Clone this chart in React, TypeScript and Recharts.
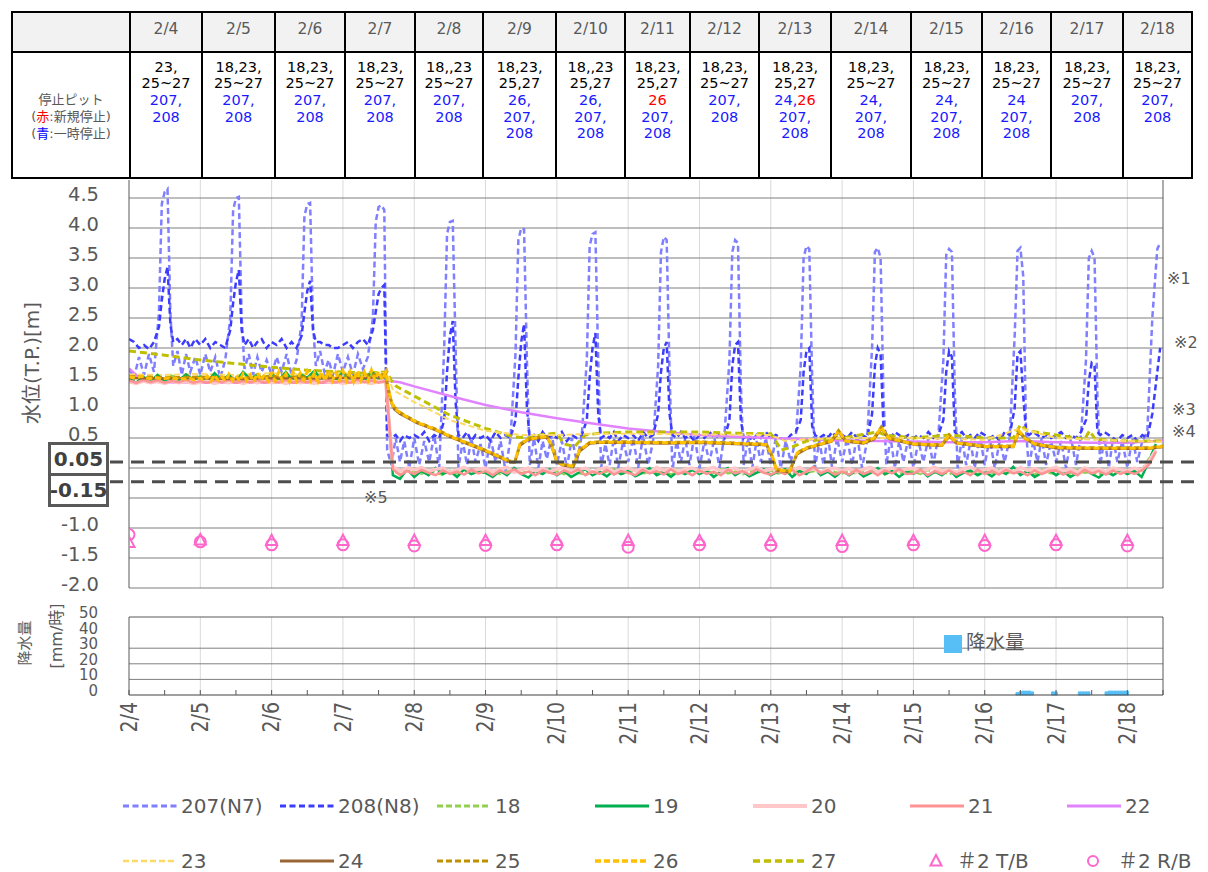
import React from "react";
import {
  ComposedChart,
  Line,
  Scatter,
  Bar,
  XAxis,
  YAxis,
  CartesianGrid,
  ReferenceLine
} from "recharts";

const FONT = '"DejaVu Sans", "Noto Sans CJK JP", sans-serif';
const INK = "#595959";

// ---- axes / categories ----
const dayLabels = ["2/4","2/5","2/6","2/7","2/8","2/9","2/10","2/11","2/12","2/13","2/14","2/15","2/16","2/17","2/18"];
const dayTicks = [0,1,2,3,4,5,6,7,8,9,10,11,12,13,14];
const levelTicks = [-2,-1.5,-1,-0.5,0,0.5,1,1.5,2,2.5,3,3.5,4,4.5];
const rainTicks = [0,10,20,30,40,50];

// stop pits per day: "|" new line, "+" segment, "*" blue (一時停止), "!" red (新規停止)
const stopPits = [
  "23,|25~27|*207,|*208",
  "18,23,|25~27|*207,|*208",
  "18,23,|25~27|*207,|*208",
  "18,23,|25~27|*207,|*208",
  "18,,23|25~27|*207,|*208",
  "18,23,|25,27|*26,|*207,|*208",
  "18,,23|25,27|*26,|*207,|*208",
  "18,23,|25,27|!26|*207,|*208",
  "18,23,|25~27|*207,|*208",
  "18,23,|25,27|*24,+!26|*207,|*208",
  "18,23,|25~27|*24,|*207,|*208",
  "18,23,|25~27|*24,|*207,|*208",
  "18,23,|25~27|*24|*207,|*208",
  "18,23,|25~27|*207,|*208",
  "18,23,|25~27|*207,|*208"
];

// ---- N7 / N8 (within-day sample offsets, values per day) ----
const peakOffsets = [0,0.07,0.14,0.21,0.28,0.35,0.42,0.46,0.5,0.54,0.58,0.62,0.68,0.74,0.8,0.86,0.93];

const n7ByDay = [
  [1.65,1.5,1.85,1.55,1.9,1.6,2.6,4.4,4.6,4.65,2.6,1.7,1.95,1.55,1.9,1.6,1.85],
  [1.55,1.9,1.6,1.85,1.5,1.8,2.5,4.3,4.5,4.52,2.5,1.65,1.9,1.55,1.85,1.6,1.8],
  [1.55,1.85,1.6,1.9,1.55,1.8,2.4,4.2,4.4,4.42,2.4,1.7,1.95,1.6,1.8,1.55,1.9],
  [1.6,1.85,1.55,1.9,1.65,1.85,2.5,4.1,4.35,4.38,4.3,0.3,0.05,0.5,0.1,0.45,0.0],
  [0.5,0.05,0.45,0.1,0.55,0.0,2.0,3.9,4.1,4.12,2.0,0.0,0.45,0.05,0.5,0.1,0.4],
  [0.0,0.5,0.1,0.45,-0.05,0.5,1.9,3.8,4.0,3.98,1.8,0.05,0.5,0.0,0.45,0.15,0.55],
  [0.05,0.45,0.0,0.5,0.1,0.55,1.8,3.7,3.9,3.93,1.8,0.0,0.4,0.05,0.5,0.0,0.45],
  [0.1,0.5,0.0,0.55,0.05,0.45,1.7,3.6,3.85,3.8,1.6,-0.05,0.45,0.1,0.5,0.05,0.55],
  [0.0,0.45,0.1,0.5,0.0,0.55,1.8,3.6,3.8,3.75,1.4,0.05,0.5,0.0,0.45,0.1,0.5],
  [0.05,0.5,0.0,0.45,0.1,0.5,1.7,3.5,3.7,3.65,1.5,0.0,0.45,0.05,0.55,0.0,0.5],
  [0.1,0.5,0.05,0.55,0.0,0.45,2.0,3.6,3.67,3.5,1.2,0.05,0.5,0.0,0.45,0.1,0.5],
  [0.0,0.45,0.1,0.5,0.05,0.55,1.8,3.55,3.65,3.6,1.3,0.0,0.5,0.05,0.45,0.0,0.55],
  [0.05,0.5,0.0,0.45,0.1,0.5,2.2,3.62,3.67,3.2,0.6,0.0,0.45,0.1,0.5,0.05,0.45],
  [0.1,0.45,0.0,0.5,0.05,0.55,1.8,3.5,3.62,3.5,1.2,0.05,0.5,0.0,0.5,0.1,0.45],
  [0.0,0.5,0.1,0.45,0.6,2.5,3.65,3.75]
];

const n8ByDay = [
  [2.15,2.1,2.0,2.05,1.98,2.1,2.35,2.8,3.15,3.35,2.4,2.1,2.15,2.05,2.15,2.0,2.15],
  [2.05,2.15,2.0,2.1,2.05,2.0,2.3,2.75,3.1,3.3,2.3,2.05,2.15,2.0,2.1,2.15,2.0],
  [2.1,2.05,2.15,2.0,2.1,2.0,2.2,2.6,2.95,3.12,2.3,2.1,2.1,2.05,2.05,2.0,2.0],
  [2.05,2.1,2.0,2.1,2.15,2.05,2.3,2.6,2.9,3.0,3.05,0.55,0.5,0.55,0.45,0.55,0.5],
  [0.55,0.5,0.6,0.45,0.55,0.5,0.8,1.6,2.2,2.45,1.1,0.55,0.5,0.6,0.45,0.55,0.5],
  [0.55,0.45,0.6,0.5,0.55,0.5,0.8,1.5,2.1,2.4,1.0,0.5,0.55,0.45,0.6,0.5,0.55],
  [0.5,0.6,0.45,0.55,0.5,0.55,0.8,1.5,2.0,2.25,0.9,0.5,0.55,0.5,0.6,0.45,0.55],
  [0.5,0.55,0.45,0.6,0.5,0.55,0.9,1.6,2.0,2.1,0.9,0.55,0.5,0.6,0.5,0.55,0.45],
  [0.55,0.5,0.6,0.5,0.55,0.5,0.8,1.7,2.05,2.1,0.8,0.5,0.55,0.45,0.55,0.5,0.6],
  [0.5,0.55,0.5,0.45,0.55,0.6,0.8,1.6,1.95,2.0,0.7,0.55,0.5,0.55,0.5,0.6,0.5],
  [0.55,0.5,0.6,0.5,0.55,0.5,0.9,1.7,2.0,1.9,0.7,0.55,0.5,0.6,0.55,0.5,0.55],
  [0.5,0.55,0.5,0.6,0.5,0.55,0.8,1.6,1.95,1.85,0.6,0.55,0.6,0.5,0.55,0.5,0.6],
  [0.55,0.5,0.55,0.45,0.6,0.55,1.0,1.9,1.95,1.2,0.6,0.55,0.6,0.55,0.5,0.55,0.5],
  [0.55,0.6,0.5,0.55,0.5,0.6,0.8,1.45,1.75,1.7,0.6,0.55,0.6,0.55,0.5,0.45,0.55],
  [0.5,0.55,0.45,0.55,0.5,0.9,1.6,2.0]
];

// ---- pits 18-21 (sampled every 0.1 day) ----
const tenthOffsets = [0,0.1,0.2,0.3,0.4,0.5,0.6,0.7,0.8,0.9];

const p18ByDay = [
  [1.5,1.47,1.53,1.48,1.52,1.47,1.54,1.49,1.52,1.48],
  [1.53,1.48,1.55,1.49,1.52,1.47,1.54,1.5,1.53,1.48],
  [1.54,1.49,1.56,1.5,1.53,1.48,1.55,1.5,1.54,1.49],
  [1.55,1.5,1.57,1.49,1.55,1.5,1.52,-0.05,-0.1,-0.04],
  [-0.06,-0.1,-0.04,-0.08,-0.11,-0.05,-0.09,-0.03,-0.1,-0.06],
  [-0.09,-0.04,-0.1,-0.06,-0.02,-0.09,-0.05,-0.11,-0.04,-0.08],
  [-0.05,-0.1,-0.03,-0.08,-0.11,-0.04,-0.09,-0.06,-0.02,-0.1],
  [-0.08,-0.03,-0.1,-0.05,-0.09,-0.04,-0.11,-0.06,-0.09,-0.03],
  [-0.1,-0.05,-0.08,-0.02,-0.09,-0.06,-0.11,-0.04,-0.08,-0.05],
  [-0.04,-0.09,-0.06,-0.11,-0.03,-0.08,-0.05,-0.1,-0.02,-0.07],
  [-0.09,-0.04,-0.1,-0.06,-0.08,-0.03,-0.11,-0.05,-0.09,-0.04],
  [-0.06,-0.1,-0.03,-0.08,-0.05,-0.11,-0.04,-0.09,-0.06,-0.1],
  [-0.03,-0.08,-0.05,-0.1,-0.04,-0.09,-0.06,-0.11,-0.03,-0.08],
  [-0.1,-0.05,-0.09,-0.03,-0.08,-0.06,-0.11,-0.04,-0.09,-0.05],
  [-0.05,-0.08,-0.04,0.15,0.35]
];

const p19ByDay = [
  [1.48,1.42,1.52,1.44,1.55,1.45,1.5,1.46,1.56,1.47],
  [1.52,1.44,1.58,1.46,1.55,1.44,1.6,1.48,1.56,1.45],
  [1.58,1.46,1.6,1.45,1.57,1.5,1.62,1.47,1.58,1.46],
  [1.6,1.47,1.58,1.45,1.62,1.48,1.55,-0.12,-0.18,-0.02],
  [-0.15,-0.05,-0.12,0.0,-0.1,-0.05,-0.15,-0.02,-0.1,-0.05],
  [-0.08,-0.15,-0.05,-0.12,0.0,-0.1,-0.16,-0.05,-0.1,-0.02],
  [-0.12,-0.05,-0.15,-0.08,-0.02,-0.12,-0.06,-0.14,-0.04,-0.1],
  [-0.05,-0.14,-0.08,0.0,-0.12,-0.06,-0.15,-0.05,-0.1,-0.03],
  [-0.1,-0.04,-0.15,-0.06,0.0,-0.12,-0.05,-0.14,-0.08,-0.02],
  [-0.12,-0.06,-0.02,-0.15,-0.05,-0.1,0.02,-0.12,-0.06,-0.15],
  [-0.05,-0.12,-0.04,-0.14,-0.08,0.0,-0.1,-0.05,-0.15,-0.06],
  [-0.1,-0.03,-0.14,-0.06,-0.12,-0.02,-0.15,-0.08,-0.04,-0.12],
  [-0.06,-0.14,-0.04,-0.1,0.02,-0.12,-0.05,-0.15,-0.08,-0.03],
  [-0.12,-0.05,-0.15,-0.08,-0.02,-0.1,-0.16,-0.06,-0.12,-0.04],
  [-0.1,-0.05,-0.15,0.1,0.4]
];

const p20ByDay = [
  [1.44,1.41,1.45,1.42,1.44,1.41,1.45,1.42,1.44,1.41],
  [1.43,1.45,1.41,1.44,1.42,1.45,1.41,1.44,1.42,1.45],
  [1.42,1.44,1.41,1.45,1.42,1.44,1.41,1.45,1.43,1.44],
  [1.41,1.45,1.42,1.44,1.41,1.45,1.43,0.02,-0.05,0.0],
  [-0.03,0.01,-0.06,-0.02,0.0,-0.07,-0.03,0.01,-0.05,-0.02],
  [0.0,-0.06,-0.02,0.01,-0.07,-0.03,0.0,-0.05,-0.01,-0.06],
  [-0.02,0.01,-0.05,-0.03,0.0,-0.07,-0.02,0.01,-0.06,-0.03],
  [0.0,-0.05,-0.02,-0.07,0.01,-0.04,-0.01,-0.06,-0.02,0.0],
  [-0.06,-0.02,0.01,-0.05,-0.03,0.0,-0.07,-0.02,0.01,-0.05],
  [-0.02,0.0,-0.06,-0.03,0.01,-0.05,-0.01,-0.07,-0.02,0.0],
  [-0.05,-0.01,-0.07,-0.02,0.01,-0.06,-0.03,0.0,-0.05,-0.02],
  [0.0,-0.06,-0.02,0.01,-0.05,-0.03,-0.07,-0.01,0.01,-0.05],
  [-0.03,0.0,-0.06,-0.02,-0.07,0.01,-0.04,-0.01,-0.06,-0.02],
  [0.01,-0.05,-0.02,-0.07,0.0,-0.04,-0.02,-0.06,0.0,-0.03],
  [-0.05,0.0,-0.04,0.1,0.3]
];

const p21ByDay = [
  [1.46,1.42,1.47,1.43,1.46,1.42,1.45,1.43,1.47,1.42],
  [1.45,1.42,1.46,1.43,1.47,1.42,1.45,1.43,1.46,1.42],
  [1.46,1.43,1.47,1.42,1.45,1.43,1.47,1.42,1.46,1.43],
  [1.45,1.42,1.47,1.43,1.46,1.42,1.45,-0.02,-0.12,-0.05],
  [-0.1,-0.03,-0.08,-0.12,-0.04,-0.1,-0.06,-0.11,-0.03,-0.09],
  [-0.05,-0.12,-0.04,-0.09,-0.02,-0.1,-0.06,-0.12,-0.04,-0.08],
  [-0.11,-0.04,-0.09,-0.02,-0.12,-0.06,-0.1,-0.03,-0.11,-0.05],
  [-0.08,-0.12,-0.03,-0.09,-0.05,-0.11,-0.02,-0.1,-0.06,-0.12],
  [-0.04,-0.1,-0.06,-0.12,-0.03,-0.09,-0.05,-0.11,-0.02,-0.08],
  [-0.11,-0.05,-0.1,-0.03,-0.12,-0.06,0.02,-0.09,-0.04,-0.11],
  [-0.06,-0.11,-0.03,-0.1,-0.05,-0.12,-0.04,-0.09,-0.02,-0.1],
  [-0.09,-0.03,-0.12,-0.05,-0.1,-0.04,-0.11,-0.06,-0.12,-0.03],
  [-0.1,-0.05,-0.11,-0.03,-0.09,-0.06,-0.12,-0.04,-0.1,-0.05],
  [-0.04,-0.11,-0.06,-0.12,-0.03,-0.09,-0.05,-0.11,-0.04,-0.1],
  [-0.06,-0.1,-0.04,0.05,0.27]
];

// ---- pit 22 (smooth) ----
const p22Days = [0,0.1,0.2,0.5,1,2,3,3.6,3.8,4,4.5,5,5.5,6,6.5,7,7.5,8,8.5,9,9.5,10,10.5,11,11.5,12,12.5,13,13.5,14,14.5];
const p22Levels = [1.66,1.55,1.46,1.43,1.42,1.42,1.42,1.46,1.43,1.36,1.2,1.05,0.93,0.83,0.74,0.66,0.6,0.55,0.52,0.5,0.48,0.46,0.45,0.44,0.43,0.43,0.45,0.43,0.42,0.42,0.46];

// ---- pit 23 ----
const p23Days = [0,0.5,1,1.5,2,2.5,3,3.3,3.62,3.7,4,4.5,5,5.5,6,6.5,7,8,9,9.2,9.5,10,11,12,12.5,13,14,14.5];
const p23Levels = [1.56,1.55,1.57,1.55,1.58,1.56,1.58,1.57,1.58,1.3,1.1,0.8,0.62,0.55,0.55,0.57,0.57,0.56,0.55,0.45,0.48,0.5,0.5,0.47,0.66,0.5,0.45,0.44];

// ---- pits 24 / 25 / 26 (after the drop they share sample times) ----
const goldDays = [3.64,3.68,3.72,3.8,3.9,4.04,4.3,4.5,4.75,4.96,5.15,5.34,5.41,5.48,5.58,5.7,5.86,5.92,6,6.1,6.23,6.32,6.46,6.6,7,7.5,8,8.5,8.94,9.02,9.08,9.26,9.37,9.5,9.7,9.85,9.95,10.05,10.3,10.45,10.55,10.65,11,11.4,11.5,11.6,12,12.4,12.48,12.56,12.7,13,13.5,14,14.3,14.5];

const p24EarlyDays = [0,0.5,1,1.5,2,2.5,3,3.3,3.6];
const p24EarlyLevels = [1.5,1.49,1.5,1.48,1.5,1.49,1.5,1.5,1.52];
const p24Late = [1.28,1.08,0.98,0.9,0.84,0.75,0.63,0.52,0.4,0.3,0.2,0.1,0.09,0.37,0.46,0.49,0.51,0.38,0.09,0.04,0.02,0.28,0.41,0.42,0.42,0.41,0.42,0.4,0.38,0.18,-0.04,-0.07,0.23,0.32,0.39,0.44,0.6,0.44,0.41,0.48,0.66,0.49,0.39,0.37,0.53,0.41,0.35,0.35,0.6,0.49,0.39,0.33,0.32,0.32,0.32,0.35];

const p25EarlyDays = [0,0.5,1,1.5,2,2.5,3,3.3,3.6];
const p25EarlyLevels = [1.53,1.51,1.52,1.5,1.53,1.52,1.54,1.55,1.56];
const p25Late = [1.32,1.12,1.02,0.93,0.86,0.77,0.65,0.54,0.42,0.32,0.22,0.12,0.11,0.4,0.48,0.51,0.53,0.41,0.11,0.06,0.04,0.31,0.43,0.44,0.44,0.43,0.44,0.42,0.4,0.21,-0.02,-0.05,0.26,0.34,0.41,0.46,0.63,0.46,0.43,0.51,0.69,0.51,0.41,0.39,0.56,0.43,0.37,0.37,0.63,0.51,0.41,0.35,0.34,0.34,0.34,0.37];

const twentiethOffsets = [0,0.05,0.1,0.15,0.2,0.25,0.3,0.35,0.4,0.45,0.5,0.55,0.6,0.65,0.7,0.75,0.8,0.85,0.9,0.95];
const p26EarlyByDay = [
  [1.52,1.51,1.5,1.52,1.53,1.5,1.49,1.51,1.5,1.48,1.49,1.5,1.48,1.5,1.47,1.49,1.48,1.5,1.47,1.49],
  [1.5,1.46,1.53,1.45,1.55,1.46,1.52,1.45,1.56,1.46,1.54,1.45,1.57,1.46,1.55,1.44,1.58,1.46,1.56,1.45],
  [1.58,1.45,1.6,1.46,1.57,1.44,1.6,1.45,1.58,1.46,1.61,1.45,1.59,1.44,1.6,1.46,1.62,1.45,1.59,1.46],
  [1.62,1.45,1.6,1.44,1.62,1.46,1.6,1.45,1.63,1.46,1.61,1.47,1.6]
];
const p26Late = [1.3,1.1,1.0,0.92,0.85,0.76,0.64,0.53,0.41,0.31,0.21,0.11,0.1,0.39,0.47,0.5,0.52,0.4,0.1,0.05,0.03,0.3,0.42,0.43,0.43,0.42,0.43,0.41,0.39,0.2,-0.03,-0.06,0.25,0.33,0.4,0.45,0.62,0.45,0.42,0.5,0.68,0.5,0.4,0.38,0.55,0.42,0.36,0.36,0.62,0.5,0.4,0.34,0.33,0.33,0.33,0.36];

// ---- pit 27 ----
const p27Days = [0,0.5,1,1.5,2,2.5,3,3.3,3.62,3.68,3.75,4,4.5,5,5.4,5.6,5.8,6,6.1,6.25,6.4,6.6,7,7.5,8,8.5,9,9.15,9.3,9.5,10,10.5,10.6,11,11.5,12,12.4,12.5,12.6,13,13.4,13.47,13.55,14,14.5];
const p27Levels = [1.95,1.88,1.8,1.74,1.68,1.63,1.6,1.58,1.6,1.45,1.36,1.2,0.88,0.66,0.52,0.5,0.56,0.58,0.4,0.36,0.55,0.58,0.6,0.6,0.6,0.58,0.57,0.3,0.35,0.45,0.5,0.6,0.55,0.5,0.55,0.5,0.5,0.72,0.62,0.55,0.48,0.62,0.48,0.45,0.45];

// ---- #2 pumps (one reading per day) ----
const tbLevels = [-1.24,-1.2,-1.21,-1.21,-1.21,-1.21,-1.21,-1.21,-1.21,-1.21,-1.21,-1.21,-1.21,-1.21,-1.21];
const rbLevels = [-1.11,-1.23,-1.28,-1.28,-1.3,-1.29,-1.28,-1.32,-1.28,-1.29,-1.31,-1.28,-1.29,-1.28,-1.3];

// ---- rainfall (hour since 2/4 0:00, mm/h) ----
const rainHours = [299,300,301,302,303,304,311,312,320,321,322,323,329,330,331,332,333,334,335,336];
const rainMm = [1.5,2,2.5,2.5,2.5,2,2,2,2,2,2,2,2,2.5,2.5,2.5,2.5,2.5,2.5,2.5];

// ---- helpers ----
const fromDays = (offsets: number[], byDay: number[][]) =>
  byDay.flatMap((vals, d) => vals.map((v, i) => ({ t: d + offsets[i], v })));
const fromPairs = (days: number[], levels: number[]) => days.map((t, i) => ({ t, v: levels[i] }));

const series = [
  { key: "n7", name: "207(N7)", color: "#7F7FFF", width: 2.5, dash: "6 3.5", data: fromDays(peakOffsets, n7ByDay) },
  { key: "n8", name: "208(N8)", color: "#3C3CFF", width: 2.5, dash: "6 3.5", data: fromDays(peakOffsets, n8ByDay) },
  { key: "p18", name: "18", color: "#92D050", width: 2.5, dash: "6 3", data: fromDays(tenthOffsets, p18ByDay) },
  { key: "p19", name: "19", color: "#00B050", width: 2.5, dash: undefined, data: fromDays(tenthOffsets, p19ByDay) },
  { key: "p20", name: "20", color: "#FFC7C7", width: 3.5, dash: undefined, data: fromDays(tenthOffsets, p20ByDay) },
  { key: "p21", name: "21", color: "#FF9393", width: 2.5, dash: undefined, data: fromDays(tenthOffsets, p21ByDay) },
  { key: "p22", name: "22", color: "#E183FF", width: 2.5, dash: undefined, data: fromPairs(p22Days, p22Levels) },
  { key: "p23", name: "23", color: "#FFD966", width: 2, dash: "6 3", data: fromPairs(p23Days, p23Levels) },
  { key: "p24", name: "24", color: "#996633", width: 2.5, dash: undefined, data: [...fromPairs(p24EarlyDays, p24EarlyLevels), ...fromPairs(goldDays, p24Late)] },
  { key: "p25", name: "25", color: "#BF9000", width: 2.5, dash: "6 3", data: [...fromPairs(p25EarlyDays, p25EarlyLevels), ...fromPairs(goldDays, p25Late)] },
  { key: "p26", name: "26", color: "#FFC000", width: 3, dash: "6 3", data: [...fromDays(twentiethOffsets, p26EarlyByDay), ...fromPairs(goldDays, p26Late)] },
  { key: "p27", name: "27", color: "#BFBF00", width: 3, dash: "7 4", data: fromPairs(p27Days, p27Levels) }
];
const drawOrder = ["n7", "n8", "p22", "p27", "p23", "p18", "p19", "p20", "p21", "p24", "p25", "p26"];
const PUMP = "#FF66CC";
const RAIN = "#57BEF6";

const tbPoints = dayTicks.map((t, i) => ({ t, v: tbLevels[i] }));
const rbPoints = dayTicks.map((t, i) => ({ t, v: rbLevels[i] }));
const rainPoints = rainHours.map((h, i) => ({ t: h / 24, mm: rainMm[i] }));
const halfDayTicks = dayTicks.flatMap((d) => [d, d + 0.5]);

// dashed threshold lines, placed where the source draws them
const thresholdLines = [0.1, -0.23];

// ---- table ----
const tableCols = [12,130,202,275,345,415,483,556,625,690,759,831,911,982,1051,1123,1192];

function cellStyle(left: number, right: number, top: number, bottom: number, bg: string): React.CSSProperties {
  return {
    position: "absolute",
    left: left - 1,
    top: top - 1,
    width: right - left + 2,
    height: bottom - top + 2,
    border: "2px solid #000",
    boxSizing: "border-box",
    background: bg,
    textAlign: "center"
  };
}

function StopTable() {
  const top = 12, mid = 52, bottom = 178;
  return (
    <>
      <div style={cellStyle(tableCols[0], tableCols[1], top, mid, "#F2F2F2")} />
      <div style={{ ...cellStyle(tableCols[0], tableCols[1], mid, bottom, "#fff"), paddingTop: 38, fontSize: 13, lineHeight: "17px", color: INK }}>
        <div>停止ピット</div>
        <div>(<span style={{ color: "#FF0000" }}>赤</span>:新規停止)</div>
        <div>(<span style={{ color: "#0000FF" }}>青</span>:一時停止)</div>
      </div>
      {dayLabels.map((label, i) => (
        <React.Fragment key={label}>
          <div style={{ ...cellStyle(tableCols[i + 1], tableCols[i + 2], top, mid, "#F2F2F2"), fontSize: 15.5, color: INK, lineHeight: "32px" }}>
            {label}
          </div>
          <div style={{ ...cellStyle(tableCols[i + 1], tableCols[i + 2], mid, bottom, "#fff"), paddingTop: 5.6, fontSize: 14.5, lineHeight: "16.7px", color: "#000" }}>
            {stopPits[i].split("|").map((line, j) => (
              <div key={j}>
                {line.split("+").map((seg, k) => {
                  const color = seg[0] === "*" ? "#1A1AFF" : seg[0] === "!" ? "#FF0000" : "#000";
                  const text = seg[0] === "*" || seg[0] === "!" ? seg.slice(1) : seg;
                  return <span key={k} style={{ color }}>{text}</span>;
                })}
              </div>
            ))}
          </div>
        </React.Fragment>
      ))}
    </>
  );
}

// ---- ticks ----
const LevelTick = (props: any) => {
  const { y, payload } = props;
  if (payload.value === 0 || payload.value === -0.5) return <g />;
  return (
    <text x={99} y={y - 4} textAnchor="end" dominantBaseline="central" fontSize={19.5} fill={INK} fontFamily={FONT}>
      {payload.value.toFixed(1)}
    </text>
  );
};

const RainTick = (props: any) => {
  const { y, payload } = props;
  return (
    <text x={98} y={y - 4} textAnchor="end" dominantBaseline="central" fontSize={15} fill={INK} fontFamily={FONT}>
      {payload.value}
    </text>
  );
};

const DayTick = (props: any) => {
  const { x, y, payload } = props;
  const v = payload.value as number;
  const label = Number.isInteger(v) ? dayLabels[v] : null;
  return (
    <g>
      <line x1={x} x2={x} y1={y - 5} y2={y} stroke={INK} strokeWidth={1} />
      {label && (
        <text transform={`translate(${x} ${y + 7}) rotate(-90) scale(1 1.2)`} textAnchor="end" dominantBaseline="central" fontSize={19} fill={INK} fontFamily={FONT}>
          {label}
        </text>
      )}
    </g>
  );
};

const ThresholdShape = (props: any) => (
  <line x1={110} x2={1200} y1={props.y1} y2={props.y1} stroke="#4D4D4D" strokeWidth={3} strokeDasharray="13 8" />
);

const TriangleMark = (p: any) => (
  <polygon points={`${p.cx},${p.cy - 6} ${p.cx - 5.5},${p.cy + 4.5} ${p.cx + 5.5},${p.cy + 4.5}`} fill="none" stroke={PUMP} strokeWidth={2} />
);
const RingMark = (p: any) => <circle cx={p.cx} cy={p.cy} r={5.5} fill="none" stroke={PUMP} strokeWidth={2} />;

function LevelChart() {
  return (
    <ComposedChart width={1208} height={600} margin={{ top: 180, right: 45, bottom: 12, left: 0 }} style={{ position: "absolute", left: 0, top: 0 }}>
      <CartesianGrid horizontal={false} verticalValues={dayTicks.slice(1)} stroke="#D9D9D9" />
      <CartesianGrid vertical={false} horizontalValues={levelTicks} stroke="#7F7F7F" />
      <XAxis dataKey="t" type="number" domain={[0, 14.5]} ticks={dayTicks} hide allowDataOverflow />
      <YAxis type="number" domain={[-2, 4.8]} ticks={levelTicks} interval={0} width={129} tick={LevelTick} tickLine={false} axisLine={{ stroke: INK }} allowDataOverflow />
      <ReferenceLine x={14.5} stroke={INK} />
      {drawOrder.map((k) => {
        const s = series.find((q) => q.key === k)!;
        return (
          <Line key={k} data={s.data} dataKey="v" type="linear" stroke={s.color} strokeWidth={s.width} strokeDasharray={s.dash} dot={false} activeDot={false} isAnimationActive={false} />
        );
      })}
      <Scatter data={tbPoints} dataKey="v" shape={TriangleMark} isAnimationActive={false} />
      <Scatter data={rbPoints} dataKey="v" shape={RingMark} isAnimationActive={false} />
      {thresholdLines.map((y) => (
        <ReferenceLine key={y} y={y} shape={ThresholdShape} />
      ))}
    </ComposedChart>
  );
}

function RainChart() {
  return (
    <ComposedChart width={1208} height={180} data={rainPoints} margin={{ top: 17, right: 45, bottom: 0, left: 0 }} style={{ position: "absolute", left: 0, top: 600 }}>
      <CartesianGrid horizontal={false} verticalValues={dayTicks.slice(1)} stroke="#D9D9D9" />
      <CartesianGrid vertical={false} horizontalValues={[10, 20, 30]} stroke="#7F7F7F" />
      <XAxis dataKey="t" type="number" domain={[0, 14.5]} ticks={halfDayTicks} interval={0} height={85} tick={DayTick} tickLine={false} tickSize={0} tickMargin={0} axisLine={{ stroke: "#404040" }} allowDataOverflow />
      <YAxis type="number" domain={[0, 50]} ticks={rainTicks} interval={0} width={129} tick={RainTick} tickLine={false} axisLine={{ stroke: INK }} />
      <ReferenceLine y={50} stroke={INK} />
      <ReferenceLine x={14.5} stroke={INK} />
      <Bar dataKey="mm" fill={RAIN} stroke={RAIN} strokeWidth={1} barSize={4} isAnimationActive={false} />
    </ComposedChart>
  );
}

function Rotated({ text, cx, cy, size, w }: { text: string; cx: number; cy: number; size: number; w: number }) {
  return (
    <div style={{ position: "absolute", left: cx - w / 2, top: cy - size, width: w, height: size * 2, lineHeight: `${size * 2}px`, textAlign: "center", transform: "rotate(-90deg)", fontSize: size, color: INK, whiteSpace: "nowrap" }}>
      {text}
    </div>
  );
}

const boxStyle: React.CSSProperties = {
  position: "absolute",
  left: 48,
  width: 61,
  height: 34,
  border: "3px solid #595959",
  boxSizing: "border-box",
  background: "#fff",
  fontWeight: "bold",
  fontSize: 20,
  color: "#404040",
  display: "flex",
  alignItems: "center",
  justifyContent: "center"
};

function Overlays() {
  const note = (text: string, x: number, y: number) => (
    <div style={{ position: "absolute", left: x, top: y - 10, fontSize: 16, lineHeight: "20px", color: INK }}>{text}</div>
  );
  return (
    <>
      <Rotated text="水位(T.P.)[m]" cx={32} cy={363} size={20} w={160} />
      <div style={{ ...boxStyle, top: 442 }}>0.05</div>
      <div style={{ ...boxStyle, top: 473 }}>-0.15</div>
      {note("※1", 1167, 279)}
      {note("※2", 1174, 343)}
      {note("※3", 1172, 410)}
      {note("※4", 1172, 432)}
      {note("※5", 364, 498)}
      <Rotated text="降水量" cx={25} cy={643} size={15} w={60} />
      <Rotated text="[mm/時]" cx={57} cy={636} size={16} w={80} />
      <div style={{ position: "absolute", left: 944, top: 635, width: 18, height: 18, background: RAIN }} />
      <div style={{ position: "absolute", left: 966, top: 631, fontSize: 19.5, lineHeight: "24px", color: INK }}>降水量</div>
    </>
  );
}

const legendX = [123, 280, 437, 595, 753, 910, 1067];
const legendRow1 = ["n7", "n8", "p18", "p19", "p20", "p21", "p22"];
const legendRow2 = ["p23", "p24", "p25", "p26", "p27"];

function LegendItem({ k, x, y }: { k: string; x: number; y: number }) {
  const s = series.find((q) => q.key === k)!;
  return (
    <>
      <svg width={54} height={10} style={{ position: "absolute", left: x, top: y - 5 }}>
        <line x1={0} x2={54} y1={5} y2={5} stroke={s.color} strokeWidth={s.width + 0.5} strokeDasharray={s.dash} />
      </svg>
      <div style={{ position: "absolute", left: x + 58, top: y - 13, fontSize: 20, lineHeight: "26px", color: INK, whiteSpace: "nowrap" }}>{s.name}</div>
    </>
  );
}

function BottomLegend() {
  return (
    <>
      {legendRow1.map((k, i) => <LegendItem key={k} k={k} x={legendX[i]} y={806} />)}
      {legendRow2.map((k, i) => <LegendItem key={k} k={k} x={legendX[i]} y={861} />)}
      <svg width={16} height={16} style={{ position: "absolute", left: 928, top: 853 }}>
        <polygon points="8,2 2.5,12.5 13.5,12.5" fill="none" stroke={PUMP} strokeWidth={2} />
      </svg>
      <div style={{ position: "absolute", left: 957, top: 848, fontSize: 20, lineHeight: "26px", color: INK, whiteSpace: "nowrap" }}>＃2 T/B</div>
      <svg width={16} height={16} style={{ position: "absolute", left: 1085, top: 853 }}>
        <circle cx={8} cy={8} r={5} fill="none" stroke={PUMP} strokeWidth={2} />
      </svg>
      <div style={{ position: "absolute", left: 1118, top: 848, fontSize: 20, lineHeight: "26px", color: INK, whiteSpace: "nowrap" }}>＃2 R/B</div>
    </>
  );
}

export default function App() {
  return (
    <div style={{ position: "absolute", left: 0, top: 0, width: 1208, height: 872, background: "#fff", fontFamily: FONT, overflow: "hidden" }}>
      <StopTable />
      <LevelChart />
      <RainChart />
      <Overlays />
      <BottomLegend />
    </div>
  );
}
